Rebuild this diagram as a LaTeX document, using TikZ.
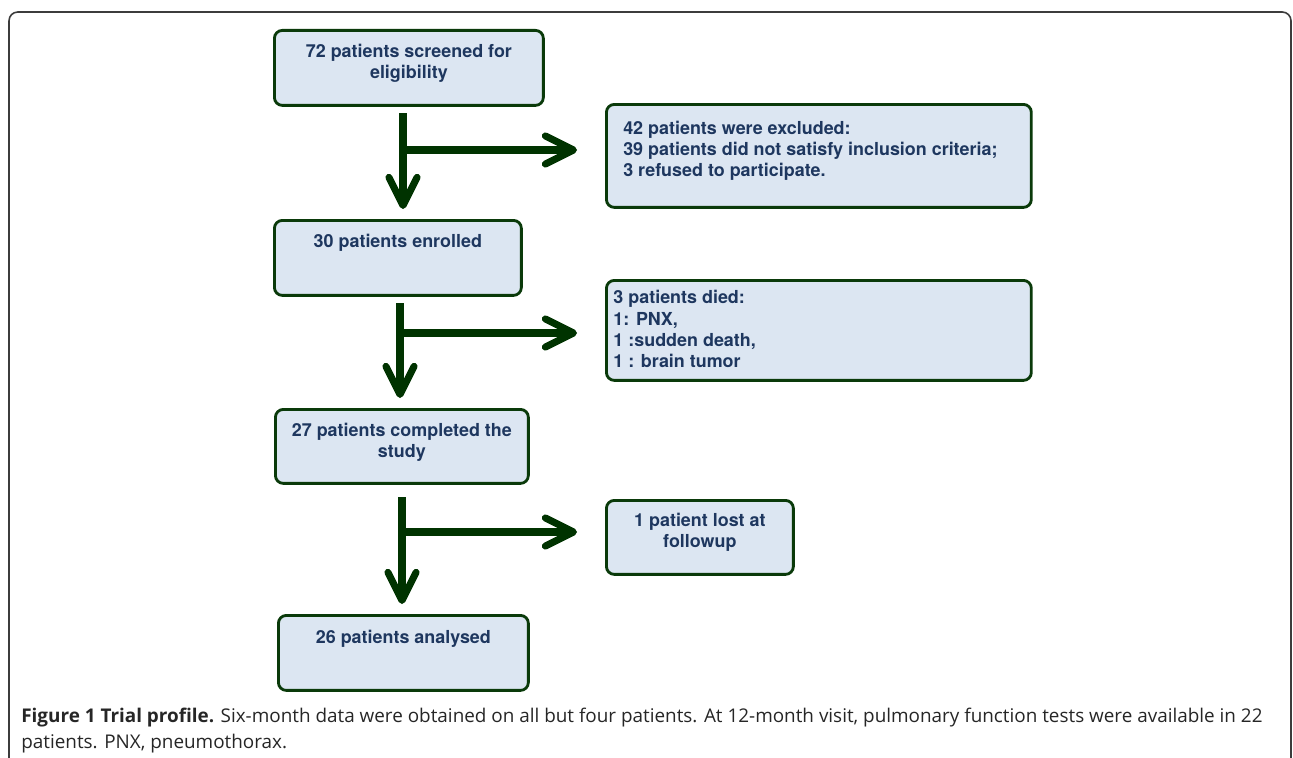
\documentclass[tikz,border=0pt]{standalone}
\usepackage{fontspec}
\setmainfont{TeX Gyre Heros}
\newfontfamily\capfont{Open Sans}
\usetikzlibrary{arrows.meta,positioning,calc}
\definecolor{boxfill}{RGB}{220,230,242}
\definecolor{boxline}{RGB}{10,58,10}
\definecolor{arrowgreen}{RGB}{0,51,0}
\definecolor{boxtext}{RGB}{30,55,95}
\definecolor{framegray}{RGB}{60,60,60}
% height, width, top gap, alignment, text
\newcommand{\boxbody}[5]{\parbox[c][#1][t]{#2}{#4\vspace*{#3}\strut #5}}
\tikzset{
  stage/.style={rectangle, rounded corners=4.5pt, draw=boxline, line width=1.6pt,
    fill=boxfill, inner sep=0pt, text=boxtext, anchor=north west,
    font=\fontsize{10.2}{12}\selectfont\bfseries},
  flow/.style={-{Straight Barb[length=16pt, width=16pt, round]}, line width=4pt, draw=arrowgreen},
  down/.style={flow, shorten >=0.2cm},
  side/.style={flow, shorten >=0.56cm},
  capnode/.style={anchor=north west, inner sep=0pt, align=left, text=black!85,
    font=\capfont\fontsize{10.75}{14.7}\selectfont},
}
\begin{document}
\begin{tikzpicture}[x=0.02cm, y=-0.02cm]
  \useasboundingbox (0,0) rectangle (1293,757);
  \clip (0,0) rectangle (1293,757);
  % frame of the figure
  \draw[framegray, line width=0.9pt, rounded corners=5pt] (9,790) -- (9,12) -- (1291,12) -- (1291,790);
  % main column
  \node[stage] (scr) at (273,29) {\boxbody{1.5cm}{5.38cm}{7pt}{\centering}{72 patients screened for\\ eligibility}};
  \node[stage] (enr) at (273,219) {\boxbody{1.5cm}{4.94cm}{7pt}{\centering}{30 patients enrolled}};
  \node[stage] (comp) at (274,408) {\boxbody{1.48cm}{5.06cm}{7pt}{\centering}{27 patients completed the\\ study}};
  \node[stage] (ana) at (277,614) {\boxbody{1.5cm}{5.0cm}{7.5pt}{\centering}{26 patients analysed}};
  % side boxes
  \node[stage] (exc) at (605,103) {\boxbody{2.06cm}{8.5cm}{8.6pt}{\raggedright\leftskip=9.6pt}{42 patients were excluded:\\ 39 patients did not satisfy inclusion criteria;\\ 3 refused to participate.}};
  \node[stage] (died) at (605,279) {\boxbody{2.0cm}{8.5cm}{5pt}{\raggedright\leftskip=4pt}{3 patients died:\\ 1: PNX,\\ 1 :sudden death,\\ 1 : brain tumor}};
  \node[stage] (lost) at (605,499) {\boxbody{1.48cm}{3.74cm}{6.5pt}{\centering}{1 patient lost at\\ followup}};
  % arrows
  \coordinate (t1) at (403,113);
  \coordinate (j1) at (403,150);
  \coordinate (t2) at (400,303);
  \coordinate (j2) at (400,333);
  \coordinate (t3) at (402,497);
  \coordinate (j3) at (402,532);
  \draw[down] (t1) -- (t1 |- enr.north);
  \draw[side] (j1) -- (j1 -| exc.west);
  \draw[down] (t2) -- (t2 |- comp.north);
  \draw[side] (j2) -- (j2 -| died.west);
  \draw[down] (t3) -- (t3 |- ana.north);
  \draw[side] (j3) -- (j3 -| lost.west);
  % caption
  \node[capnode] (cap) at (21,708) {\textbf{Figure 1 Trial profile.} Six-month data were obtained on all but four patients. At 12-month visit, pulmonary function tests were available in 22\\ patients. PNX, pneumothorax.};
\end{tikzpicture}
\end{document}
